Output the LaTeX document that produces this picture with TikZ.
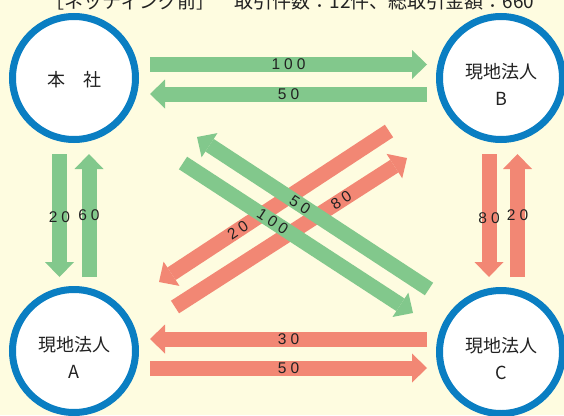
\documentclass[tikz,border=0pt]{standalone}
\usepackage{fontspec}
\setmainfont{Liberation Sans}
\newfontfamily\jp{Noto Sans CJK JP}
\usetikzlibrary{arrows.meta}
\definecolor{bg}{HTML}{FEFCE0}
\definecolor{gr}{HTML}{82C88C}
\definecolor{rd}{HTML}{F28774}
\definecolor{bl}{HTML}{0A7EC2}
\definecolor{tx}{HTML}{222222}
\newcommand\dk{\kern4pt}
\begin{document}
\begin{tikzpicture}[x=1pt,y=-1pt,
  circ/.style={circle,draw=bl,line width=7pt,fill=white,minimum size=123pt,inner sep=0pt},
  ctext/.style={font=\jp\fontsize{18}{26.5}\selectfont,align=center,text=tx,inner sep=0pt},
  barrow/.style={line width=15pt,-{Triangle[width=29pt,length=15pt,line width=0pt]}},
  garrow/.style={barrow,draw=gr},
  rarrow/.style={barrow,draw=rd},
  num/.style={font=\fontsize{15.5}{16}\selectfont,text=tx,inner sep=0pt}]
\fill[bg] (0,0) rectangle (564,415);
\useasboundingbox (0,0) rectangle (564,415);
\clip (0,0) rectangle (564,415);
% title (cut off at top)
\node[font=\jp\fontsize{19}{20}\selectfont,text=tx,anchor=base,inner sep=0pt] (title) at (290,9)
  {［ネッティング前］　取引件数：12件、総取引金額：660};
% arrow end points
\coordinate (t1a) at (150,64.5); \coordinate (t1b) at (427,64.5);
\coordinate (t2a) at (427,94);   \coordinate (t2b) at (150,94);
\coordinate (b1a) at (427,339);  \coordinate (b1b) at (150,339);
\coordinate (b2a) at (150,368);  \coordinate (b2b) at (427,368);
\coordinate (l1a) at (59.5,154); \coordinate (l1b) at (59.5,277);
\coordinate (l2a) at (89,277);   \coordinate (l2b) at (89,154);
\coordinate (r1a) at (489,154);  \coordinate (r1b) at (489,277);
\coordinate (r2a) at (517.5,277);\coordinate (r2b) at (517.5,154);
\coordinate (d1a) at (389,131);  \coordinate (d1b) at (159,282);
\coordinate (d2a) at (175,307);  \coordinate (d2b) at (407,158);
\coordinate (d3a) at (429,289);  \coordinate (d3b) at (197,137);
\coordinate (d4a) at (183,163);  \coordinate (d4b) at (413,313);
% horizontal and vertical arrows
\draw[garrow] (t1a) -- node[num] (n1) {1\dk0\dk0} (t1b);
\draw[garrow] (t2a) -- node[num] (n2) {5\dk0} (t2b);
\draw[rarrow] (b1a) -- node[num] (n3) {3\dk0} (b1b);
\draw[rarrow] (b2a) -- node[num] (n4) {5\dk0} (b2b);
\draw[garrow] (l1a) -- node[num,pos=0.51] (n5) {2\dk0} (l1b);
\draw[garrow] (l2a) -- node[num,pos=0.5] (n6) {6\dk0} (l2b);
\draw[rarrow] (r1a) -- node[num,pos=0.52] (n7) {8\dk0} (r1b);
\draw[rarrow] (r2a) -- node[num,pos=0.5] (n8) {2\dk0} (r2b);
% diagonal arrows
\draw[rarrow] (d1a) -- (d1b);
\draw[rarrow] (d2a) -- (d2b);
\draw[garrow] (d3a) -- (d3b);
\draw[garrow] (d4a) -- (d4b);
\path (d1a) -- node[num,sloped,pos=0.657] (n9) {2\dk0} (d1b);
\path (d2a) -- node[num,sloped,pos=0.716] (n10) {8\dk0} (d2b);
\path (d3a) -- node[num,sloped,pos=0.556] (n11) {5\dk0} (d3b);
\path (d4a) -- node[num,sloped,pos=0.39] (n12) {1\dk0\dk0} (d4b);
% circles
\node[circ] (HQ) at (74,78) {};
\node[circ] (B) at (501,78) {};
\node[circ] (A) at (74,351) {};
\node[circ] (C) at (501,352) {};
\node[ctext] (HQt) at ([yshift=-2pt]HQ.center) {本　社};
\node[ctext] (Bt) at ([yshift=-6.5pt]B.center) {現地法人\\B};
\node[ctext] (At) at ([yshift=-6.5pt]A.center) {現地法人\\A};
\node[ctext] (Ct) at ([yshift=-6.5pt]C.center) {現地法人\\C};
\end{tikzpicture}
\end{document}
